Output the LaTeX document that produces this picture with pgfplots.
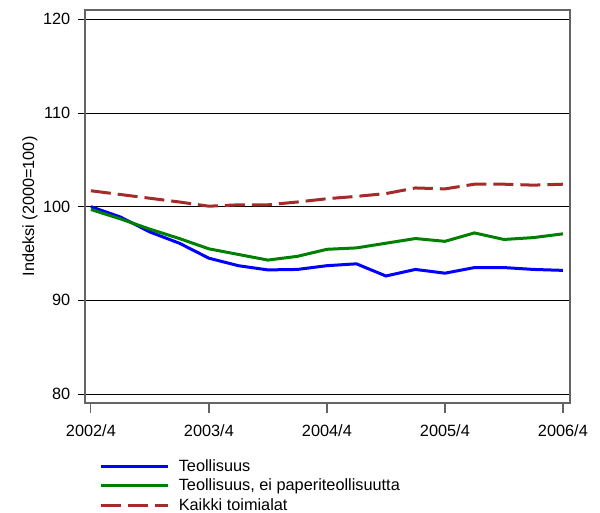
\documentclass[border=0pt]{standalone}
\usepackage{pgfplots}
\pgfplotsset{compat=1.18}
\usepackage{fontspec}
\setmainfont{Liberation Sans}
\usetikzlibrary{calc}

\definecolor{sarjaA}{RGB}{0,0,255}
\definecolor{sarjaB}{RGB}{0,128,0}
\definecolor{sarjaC}{RGB}{165,42,42}
\definecolor{kehys}{RGB}{100,100,100}

\newcommand{\kirj}{\fontsize{16.3bp}{19bp}\selectfont}

\begin{document}
\begin{tikzpicture}
\begin{axis}[
    scale only axis,
    width=485bp, height=393bp,
    xmin=-0.2, xmax=16.24,
    ymin=79.04, ymax=121,
    axis line style={draw=kehys, line width=1.2bp},
    tick align=outside,
    xtick={0,4,8,12,16},
    xticklabels={2002/4,2003/4,2004/4,2005/4,2006/4},
    ytick={80,90,100,110,120},
    xtick style={draw=kehys, line width=1.2bp, /pgfplots/major tick length=10bp},
    ytick style={draw=black, line width=0.8bp, /pgfplots/major tick length=7bp},
    ymajorgrids,
    major grid style={draw=black, line width=0.8bp},
    xtick pos=bottom, ytick pos=left,
    minor tick num=0,
    /pgf/number format/assume math mode=true,
    tick label style={font=\kirj},
    xticklabel style={yshift=-14bp},
    yticklabel style={xshift=-7bp},
    ylabel={Indeksi (2000=100)},
    ylabel style={font=\kirj, at={(axis description cs:-0.1134,0.5)}, anchor=center},
    legend style={at={(axis description cs:0.0289,-0.138)}, anchor=north west,
        draw=none, fill=none, inner sep=0pt, row sep=2.2bp, font=\kirj,
        cells={anchor=west},
        /tikz/every odd column/.append style={column sep=7.6bp}},
    legend image code/.code={\draw[#1] (0bp,0bp) -- (67bp,0bp);},
    clip=false,
]
\addplot[sarjaA, line width=3bp] coordinates {
  (0,100.0) (1,98.9) (2,97.3) (3,96.1) (4,94.5) (5,93.7) (6,93.25) (7,93.3)
  (8,93.7) (9,93.9) (10,92.6) (11,93.3) (12,92.9) (13,93.5) (14,93.5) (15,93.3) (16,93.2)
};
\addlegendentry{Teollisuus}
\addplot[sarjaB, line width=3bp] coordinates {
  (0,99.7) (1,98.7) (2,97.6) (3,96.6) (4,95.5) (5,94.9) (6,94.3) (7,94.7)
  (8,95.45) (9,95.6) (10,96.1) (11,96.6) (12,96.3) (13,97.2) (14,96.5) (15,96.7) (16,97.1)
};
\addlegendentry{Teollisuus, ei paperiteollisuutta}
\addplot[sarjaC, line width=3bp, dash pattern=on 20bp off 7bp] coordinates {
  (0,101.7) (1,101.3) (2,100.9) (3,100.5) (4,100.05) (5,100.2) (6,100.2) (7,100.5)
  (8,100.85) (9,101.1) (10,101.4) (11,102.0) (12,101.9) (13,102.4) (14,102.4) (15,102.3) (16,102.4)
};
\addlegendentry{Kaikki toimialat}
\coordinate (sw) at (rel axis cs:0,0);
\end{axis}
\pgfresetboundingbox
\useasboundingbox ($(sw)+(-85bp,-110bp)$) rectangle ++(600bp,513bp);
\end{tikzpicture}
\end{document}
